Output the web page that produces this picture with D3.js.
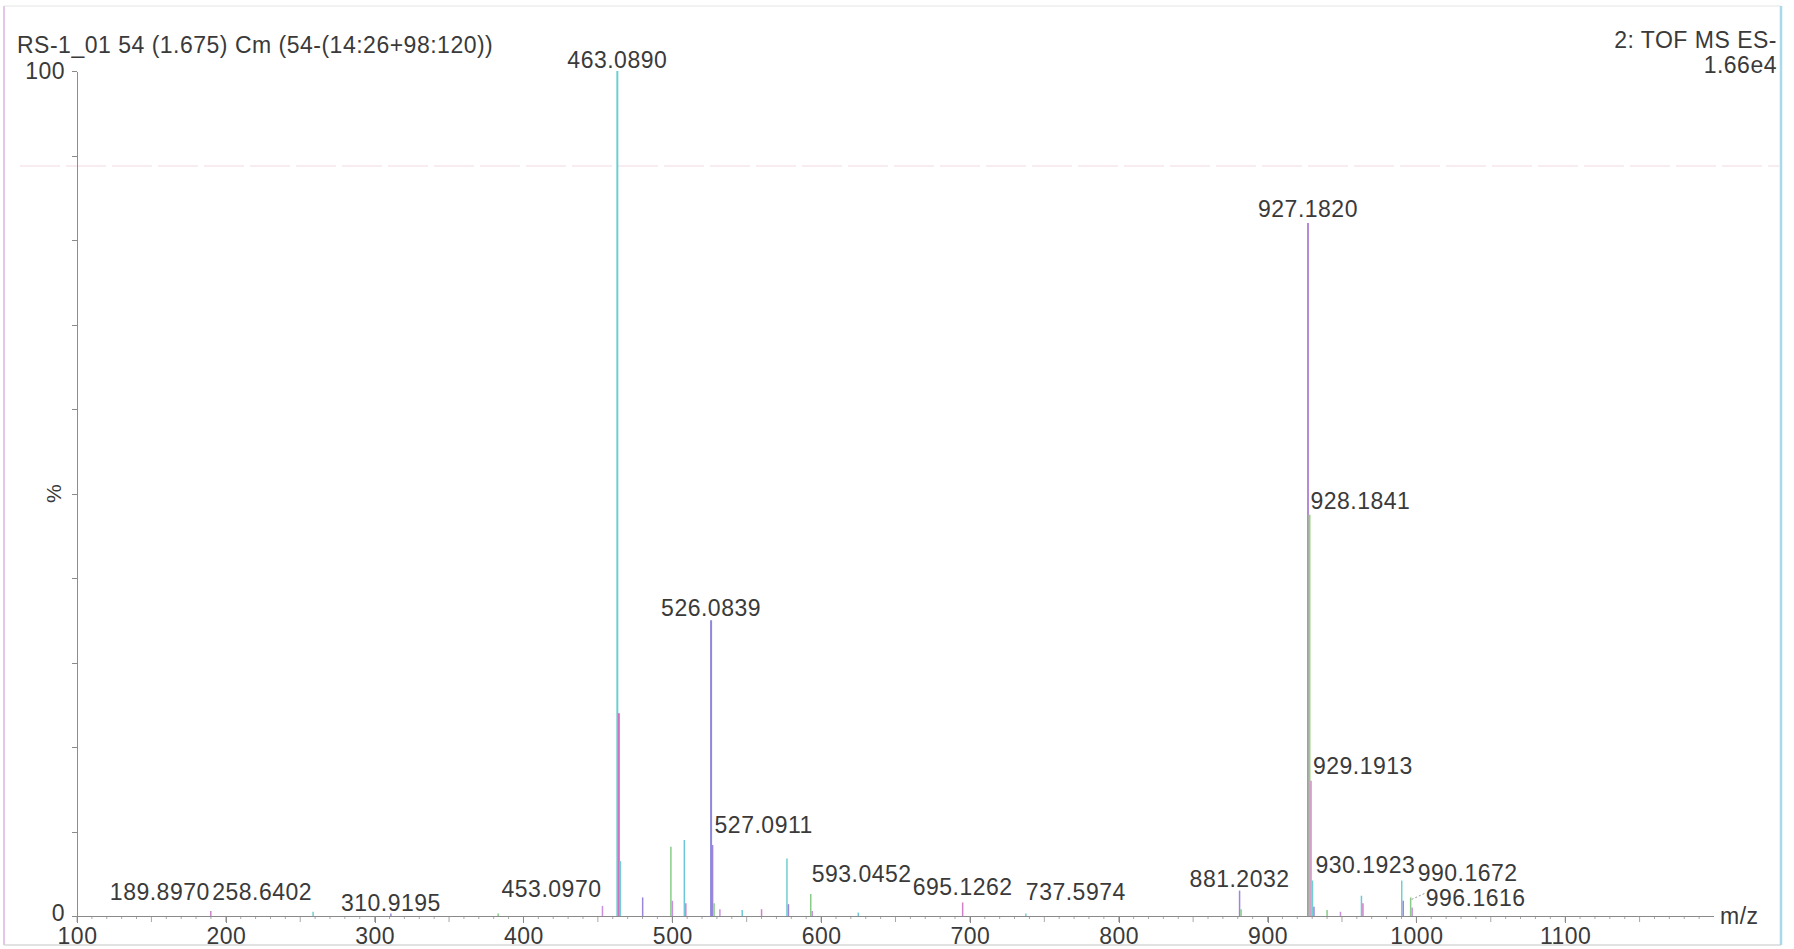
<!DOCTYPE html>
<html>
<head lang="en">
    <meta charset="UTF-8">
    <title>RS-1_01 TOF MS ES-</title>
    <script src="https://cdn.jsdelivr.net/npm/d3@7"></script>
    <style>
        html, body {
            margin: 0;
            padding: 0;
            background: #ffffff;
        }
        svg text {
            font-family: "Liberation Sans", Arial, sans-serif;
            fill: #3a3a3a;
            font-size: 23px;
            letter-spacing: 0.5px;
        }
        .axis path, .axis line {
            stroke: #8a8a8a;
            shape-rendering: crispEdges;
        }
        .axis text {
            font-size: 23px;
        }
    </style>
</head>
<body>
<svg id="chart" width="1794" height="949"></svg>
<script>
    // spectrum: m/z and relative intensity (%)
    var peakMz = [189.897, 258.6402, 310.9195, 383.0, 453.097, 463.089, 464.092, 465.09, 480.1,
        499.07, 500.07, 508.1, 509.1, 526.0839, 527.0911, 528.09, 532.0, 547.0, 560.0, 577.06,
        578.06, 593.0452, 594.05, 625.0, 695.1262, 737.5974, 881.2032, 882.2, 927.182, 928.1841,
        929.1913, 930.1923, 931.19, 940.0, 949.0, 963.1, 964.1, 990.1672, 991.17, 996.1616, 997.16];
    var peakIntensity = [0.6, 0.5, 0.3, 0.3, 1.2, 100, 24, 6.5, 2.2,
        8.2, 1.8, 9, 1.5, 35, 8.4, 1.5, 0.8, 0.7, 0.8, 6.8,
        1.4, 2.6, 0.6, 0.4, 1.6, 0.3, 3.0, 0.8, 82, 47.5,
        16, 4.2, 1.1, 0.7, 0.5, 2.4, 1.5, 4.2, 1.8, 2.2, 1.0];

    // peaks that carry an m/z label
    var labelledMz = [189.897, 258.6402, 310.9195, 453.097, 463.089, 526.0839, 527.0911, 593.0452,
        695.1262, 737.5974, 881.2032, 927.182, 928.1841, 929.1913, 930.1923, 990.1672, 996.1616];

    var xTickValues = [100, 200, 300, 400, 500, 600, 700, 800, 900, 1000, 1100];
    var yTickLabels = ["0", "100"];

    var titleLeft = "RS-1_01 54 (1.675) Cm (54-(14:26+98:120))";
    var titleRight = ["2: TOF MS ES-", "1.66e4"];

    // label placement (anchor, px lifted above peak top, px shifted right)
    var labelPlacement = {
        "189.8970": {anchor: "end", lift: 11, dx: -1},
        "258.6402": {anchor: "end", lift: 12, dx: -1},
        "310.9195": {anchor: "middle", lift: 2, dx: 0},
        "453.0970": {anchor: "end", lift: 9, dx: -1},
        "463.0890": {anchor: "middle", lift: 3, dx: 0},
        "526.0839": {anchor: "middle", lift: 4, dx: 0},
        "527.0911": {anchor: "start", lift: 12, dx: 2},
        "593.0452": {anchor: "start", lift: 12, dx: 1},
        "695.1262": {anchor: "middle", lift: 7, dx: 0},
        "737.5974": {anchor: "start", lift: 13, dx: 0},
        "881.2032": {anchor: "middle", lift: 4, dx: 0},
        "927.1820": {anchor: "middle", lift: 6, dx: 0},
        "928.1841": {anchor: "start", lift: 6, dx: 1},
        "929.1913": {anchor: "start", lift: 7, dx: 2},
        "930.1923": {anchor: "start", lift: 8, dx: 3},
        "990.1672": {anchor: "start", lift: 0, dx: 16},
        "996.1616": {anchor: "start", lift: -9, dx: 15}
    };
    // scan tint of the stick lines
    var stickColors = ["#d080c8", "#70cfd0", "#9c86dc", "#88cc88", "#c98fe0", "#6cc8d8"];
    var bigStickColor = {"463.0890": "#6fcfcf", "464.0920": "#d070c0", "526.0839": "#8c88dc",
        "927.1820": "#b58ad6", "928.1841": "#9cd07c", "929.1913": "#d48ac8"};

    var width = 1794, height = 949;
    var plot = {left: 77, right: 1714, top: 71, bottom: 916};
    var svg = d3.select("#chart");
    var fmt = d3.format(".4f");

    var xScale = d3.scaleLinear().domain([100, 1200]).range([plot.left, plot.right]);
    var yScale = d3.scaleLinear().domain([0, 100]).range([plot.bottom, plot.top]);

    var peaks = peakMz.map(function (m, i) {
        return {mz: m, val: peakIntensity[i]};
    });

    drawFrame();
    drawAxis();
    drawSticks();
    drawLabels();
    drawTitles();

    function drawFrame() {
        svg.append("rect").attr("x", 0).attr("y", 0).attr("width", width).attr("height", height)
            .attr("fill", "#ffffff");
        svg.append("line").attr("x1", 4).attr("x2", 4).attr("y1", 6).attr("y2", 945)
            .attr("stroke", "#d8b4e0").attr("stroke-width", 1.5);
        svg.append("line").attr("x1", 4).attr("x2", 1781).attr("y1", 6).attr("y2", 6)
            .attr("stroke", "#e4e4e4").attr("stroke-width", 1);
        svg.append("line").attr("x1", 4).attr("x2", 1781).attr("y1", 945).attr("y2", 945)
            .attr("stroke", "#d8d8d8").attr("stroke-width", 1.5);
        svg.append("line").attr("x1", 1781).attr("x2", 1781).attr("y1", 6).attr("y2", 945)
            .attr("stroke", "#a9d9ea").attr("stroke-width", 2.5);
        // faint scan streak
        svg.append("line").attr("x1", 20).attr("x2", 1780).attr("y1", 166).attr("y2", 166)
            .attr("stroke", "#f8ecf1").attr("stroke-width", 2)
            .attr("stroke-dasharray", "40,6");
    }

    function drawAxis() {
        // minor ticks on m/z axis
        var minor = d3.range(100, 1200, 10);
        svg.append("g").selectAll("line").data(minor).enter().append("line")
            .attr("x1", function (d) { return xScale(d); })
            .attr("x2", function (d) { return xScale(d); })
            .attr("y1", plot.bottom)
            .attr("y2", function (d) { return plot.bottom + (d % 50 === 0 ? 6 : 3); })
            .attr("stroke", "#a8a8a8");

        var xAxis = d3.axisBottom(xScale)
            .tickValues(xTickValues)
            .tickSize(7)
            .tickSizeOuter(0)
            .tickPadding(5)
            .tickFormat(d3.format("d"));
        var gx = svg.append("g").attr("class", "axis")
            .attr("transform", "translate(0," + plot.bottom + ")")
            .call(xAxis);
        gx.select(".domain").attr("d", "M" + plot.left + ",0.5H" + plot.right);

        var yAxis = d3.axisLeft(yScale)
            .tickValues(d3.range(0, 101, 10))
            .tickSize(5)
            .tickSizeOuter(0)
            .tickPadding(7)
            .tickFormat(function (d) {
                return d === 0 ? yTickLabels[0] : (d === 100 ? yTickLabels[1] : "");
            });
        var gy = svg.append("g").attr("class", "axis")
            .attr("transform", "translate(" + plot.left + ",0)")
            .call(yAxis);
        gy.select(".domain").style("stroke", "#a078c8").style("stroke-width", 1.5);
        gy.selectAll(".tick text").filter(function (d) { return d === 0; }).attr("dy", "0.2em");

        svg.append("text")
            .attr("transform", "translate(" + 54 + "," + yScale(50) + ") rotate(-90)")
            .attr("text-anchor", "middle")
            .attr("dy", "0.35em")
            .style("font-size", "21px")
            .text("%");

        svg.append("text")
            .attr("x", plot.right + 6)
            .attr("y", plot.bottom + 8)
            .text("m/z");
    }

    function drawSticks() {
        svg.append("g").selectAll("line").data(peaks).enter().append("line")
            .attr("x1", function (d) { return xScale(d.mz); })
            .attr("x2", function (d) { return xScale(d.mz); })
            .attr("y1", yScale(0))
            .attr("y2", function (d) { return yScale(d.val); })
            .attr("stroke", function (d, i) {
                return bigStickColor[fmt(d.mz)] || stickColors[i % stickColors.length];
            })
            .attr("stroke-width", function (d) { return d.val > 20 ? 2 : 1.5; });
    }

    function drawLabels() {
        var lab = peaks.filter(function (d) { return labelledMz.indexOf(d.mz) >= 0; });
        var g = svg.append("g");
        g.selectAll("text").data(lab).enter().append("text")
            .attr("x", function (d) { return xScale(d.mz) + labelPlacement[fmt(d.mz)].dx; })
            .attr("y", function (d) { return yScale(d.val) - labelPlacement[fmt(d.mz)].lift; })
            .attr("text-anchor", function (d) { return labelPlacement[fmt(d.mz)].anchor; })
            .text(function (d) { return fmt(d.mz); });

        // dotted leader for the displaced label
        var lead = lab.filter(function (d) { return labelPlacement[fmt(d.mz)].dx > 10 && labelPlacement[fmt(d.mz)].lift < 0; });
        g.selectAll("line").data(lead).enter().append("line")
            .attr("x1", function (d) { return xScale(d.mz) + 1; })
            .attr("y1", function (d) { return yScale(d.val) + 2; })
            .attr("x2", function (d) { return xScale(d.mz) + labelPlacement[fmt(d.mz)].dx - 1; })
            .attr("y2", function (d) { return yScale(d.val) - 4; })
            .attr("stroke", "#999")
            .attr("stroke-dasharray", "2,2");
    }

    function drawTitles() {
        svg.append("text").attr("x", 17).attr("y", 53)
            .text(titleLeft);
        svg.append("text").attr("x", 1777).attr("y", 48)
            .attr("text-anchor", "end")
            .text(titleRight[0]);
        svg.append("text").attr("x", 1777).attr("y", 73)
            .attr("text-anchor", "end")
            .text(titleRight[1]);
    }
</script>
</body>
</html>
